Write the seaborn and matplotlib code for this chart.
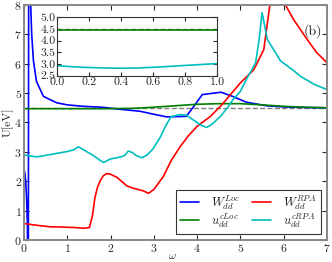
import numpy as np
import matplotlib
matplotlib.use('Agg')
import matplotlib.pyplot as plt
import seaborn as sns

# values
w_loc_x = [0, 0.02, 0.04, 0.06, 0.08, 0.10, 0.12, 0.13, 0.15, 0.18, 0.22, 0.29, 0.45, 0.6, 0.76,
           1.0, 1.37, 1.8, 2.22, 2.69, 3.0, 3.3, 3.75, 3.9, 4.12, 4.55, 4.8, 5.14, 5.6, 6.0, 6.5, 7.0]
w_loc_y = [2.4, 2.3, 2.0, 1.5, 0.6, -3.0, 20.0, 12.0, 8.3, 7.0, 6.1, 5.4, 4.89, 4.78, 4.67,
           4.6, 4.55, 4.52, 4.45, 4.38, 4.28, 4.19, 4.21, 4.5, 4.95, 5.03, 4.9, 4.69, 4.57, 4.53, 4.51, 4.5]

u_loc_x = [0, 1, 2, 2.5, 3, 3.5, 4, 4.5, 5, 5.5, 6, 6.5, 7]
u_loc_y = [4.47, 4.47, 4.47, 4.48, 4.52, 4.57, 4.62, 4.64, 4.64, 4.6, 4.55, 4.52, 4.5]

w_rpa_x = [0, 0.3, 0.6, 0.9, 1.22, 1.37, 1.51, 1.58, 1.64, 1.7, 1.76, 1.83, 1.91, 2.0, 2.15,
           2.38, 2.53, 2.76, 2.88, 3.0, 3.22, 3.4, 3.61, 3.8, 4.0, 4.31, 4.57, 4.8, 5.0, 5.31,
           5.54, 5.68, 5.72, 5.74, 5.8, 5.86, 5.94, 6.04, 6.23, 6.54, 6.75, 7.0]
w_rpa_y = [0.56, 0.5, 0.45, 0.44, 0.42, 0.4, 0.42, 0.8, 1.44, 1.8, 2.01, 2.18, 2.26, 2.24, 2.13,
           1.84, 1.76, 1.67, 1.59, 1.72, 2.16, 2.7, 3.18, 3.55, 3.87, 4.21, 4.6, 5.0, 5.35, 5.8,
           6.48, 8.0, 10.0, 30.0, 30.0, 11.0, 9.0, 8.0, 7.5, 6.83, 6.4, 6.03]

u_rpa_x = [0, 0.15, 0.3, 0.5, 0.8, 1.0, 1.15, 1.26, 1.4, 1.6, 1.75, 1.84, 1.92, 2.0, 2.15,
           2.26, 2.33, 2.41, 2.5, 2.6, 2.72, 2.85, 2.98, 3.15, 3.28, 3.4, 3.6, 3.75, 3.9, 4.1,
           4.22, 4.35, 4.54, 4.7, 4.83, 5.0, 5.15, 5.35, 5.43, 5.5, 5.56, 5.62, 5.8, 5.93,
           6.2, 6.39, 6.7, 7.0]
u_rpa_y = [2.9, 2.86, 2.83, 2.88, 2.96, 3.01, 3.07, 3.17, 3.05, 2.88, 2.72, 2.64, 2.7, 2.76, 2.8,
           2.84, 2.88, 3.03, 2.98, 2.87, 2.8, 2.9, 3.1, 3.5, 3.9, 4.2, 4.27, 4.25, 4.1, 3.9,
           3.83, 3.95, 4.21, 4.5, 4.78, 5.06, 5.5, 6.03, 6.8, 7.74, 7.3, 6.83, 6.4, 6.09,
           5.8, 5.57, 5.3, 5.12]

# inset (zoom of 0 < omega < 1)
ins_x = [0.0, 0.1, 0.2, 0.3, 0.4, 0.5, 0.6, 0.7, 0.8, 0.9, 1.0]
ins_cloc = [4.47, 4.47, 4.47, 4.47, 4.47, 4.47, 4.47, 4.47, 4.47, 4.47, 4.47]
ins_crpa = [2.93, 2.88, 2.85, 2.83, 2.82, 2.83, 2.86, 2.9, 2.94, 2.98, 3.02]

sns.set_style("ticks")
plt.rcParams['font.family'] = 'serif'
plt.rcParams['font.serif'] = ['cmr10', 'DejaVu Serif']
plt.rcParams['mathtext.fontset'] = 'cm'
plt.rcParams['axes.formatter.use_mathtext'] = True

fig = plt.figure(figsize=(3.32, 2.62), dpi=100)
ax = fig.add_axes([0.072, 0.084, 0.913, 0.897])

lw = 1.2
sns.lineplot(x=w_loc_x, y=w_loc_y, color='b', lw=lw, sort=False, estimator=None,
             label=r'$W_{dd}^{Loc}$', ax=ax)
sns.lineplot(x=u_loc_x, y=u_loc_y, color='g', lw=lw, sort=False, estimator=None,
             label=r'$u_{dd}^{cLoc}$', ax=ax)
sns.lineplot(x=w_rpa_x, y=w_rpa_y, color='r', lw=lw, sort=False, estimator=None,
             label=r'$W_{dd}^{RPA}$', ax=ax)
sns.lineplot(x=u_rpa_x, y=u_rpa_y, color='c', lw=lw, sort=False, estimator=None,
             label=r'$u_{dd}^{cRPA}$', ax=ax)
ax.axhline(4.5, color='gray', ls='--', lw=1.0, zorder=1)

ax.set_xlim(0, 7)
ax.set_ylim(0, 8)
ax.set_xticks(range(0, 8))
ax.set_yticks(range(0, 9))
ax.tick_params(direction='in', top=True, right=True, labelsize=8.5, length=3.5, pad=1.5)
for s in ax.spines.values():
    s.set_color('#888888')
    s.set_linewidth(1.4)
ax.set_xlabel(r'$\omega$', fontsize=8)
ax.xaxis.set_label_coords(0.49, -0.05)
ax.set_ylabel('U[eV]', fontsize=8.5)
ax.yaxis.set_label_coords(-0.035, 0.5)
ax.text(6.67, 7.1, '(b)', fontsize=10, ha='center', va='center')

leg = ax.legend(ncol=2, loc='lower right', fontsize=9, fancybox=False, frameon=True,
                handlelength=1.5, columnspacing=0.9, borderaxespad=0.5, borderpad=0.3,
                labelspacing=0.0, handletextpad=1.0)
leg.get_frame().set_edgecolor('black')
leg.get_frame().set_linewidth(0.8)

ins = fig.add_axes([0.1726, 0.711, 0.482, 0.223])
sns.lineplot(x=ins_x, y=ins_cloc, color='g', lw=lw, ax=ins, estimator=None)
sns.lineplot(x=ins_x, y=ins_crpa, color='c', lw=lw, ax=ins, estimator=None)
ins.axhline(4.5, color='gray', ls='--', lw=1.0, zorder=1)
ins.set_xlim(0, 1)
ins.set_ylim(2.5, 5.0)
ins.set_xticks(np.arange(0, 1.01, 0.2))
ins.set_yticks(np.arange(2.5, 5.01, 0.5))
ins.xaxis.set_major_formatter(matplotlib.ticker.FormatStrFormatter('%.1f'))
ins.yaxis.set_major_formatter(matplotlib.ticker.FormatStrFormatter('%.1f'))
ins.tick_params(direction='in', top=True, right=True, labelsize=8.5, length=3, pad=1)
for s in ins.spines.values():
    s.set_color('#333333')
    s.set_linewidth(0.8)

fig.savefig('out.png', dpi=100)
